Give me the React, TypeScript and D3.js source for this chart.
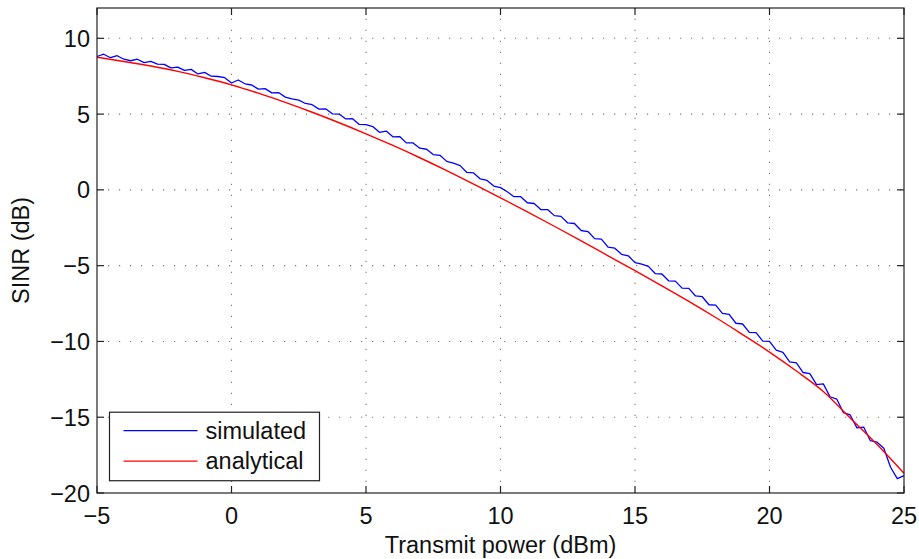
import React, { useRef, useEffect } from 'react';
import * as d3 from 'd3';

// transmit power grid (dBm)
const powerAnalytical: number[] = [
  -5, -4, -3, -2, -1, 0, 1, 2, 3, 4, 5, 6, 7, 8, 9, 10,
  11, 12, 13, 14, 15, 16, 17, 18, 19, 20, 21, 22, 23, 24, 25,
];
const sinrAnalytical: number[] = [
  8.75, 8.47, 8.17, 7.82, 7.4, 6.93, 6.38, 5.77, 5.12, 4.43, 3.7, 2.93, 2.12, 1.27, 0.38, -0.52,
  -1.45, -2.4, -3.37, -4.35, -5.33, -6.33, -7.35, -8.42, -9.55, -10.7, -11.95, -13.3, -15.05, -16.8, -18.7,
];

// simulated curve, sampled every 0.25 dBm from -5 to 25
const powerStart = -5;
const powerStep = 0.25;
const sinrSimulated: number[] = [
  8.8, 8.95, 8.72, 8.85, 8.62, 8.52, 8.62, 8.4, 8.48, 8.3, 8.28, 8.05, 8.1, 7.88, 7.95, 7.65,
  7.75, 7.5, 7.48, 7.4, 7.05, 7.25, 7.0, 6.92, 6.65, 6.68, 6.4, 6.42, 6.12, 6.0, 5.92, 5.7,
  5.62, 5.33, 5.35, 5.02, 5.0, 4.68, 4.7, 4.32, 4.3, 4.18, 3.8, 3.88, 3.5, 3.52, 3.1, 3.1,
  2.75, 2.68, 2.33, 2.28, 1.88, 1.76, 1.6, 1.15, 1.12, 0.72, 0.62, 0.25, 0.15, -0.12, -0.45, -0.45,
  -0.85, -0.9, -1.3, -1.3, -1.7, -1.75, -2.18, -2.22, -2.68, -2.75, -3.22, -3.25, -3.78, -3.85, -4.25, -4.35,
  -4.8, -4.9, -5.05, -5.52, -5.55, -6.0, -6.02, -6.48, -6.5, -7.0, -7.05, -7.58, -7.6, -8.15, -8.22, -8.8,
  -8.85, -9.4, -9.42, -9.98, -10.0, -10.58, -10.72, -11.35, -11.42, -12.05, -12.12, -12.85, -12.8, -13.65, -13.8, -14.7,
  -14.85, -15.7, -15.65, -16.55, -16.65, -17.05, -18.3, -19.05, -18.85,
];

const xTicks: number[] = [-5, 0, 5, 10, 15, 20, 25];
const yTicks: number[] = [-20, -15, -10, -5, 0, 5, 10];
const legendLabels: string[] = ['simulated', 'analytical'];
const seriesColors: string[] = ['#0000ff', '#ff0000'];

const W = 919;
const H = 559;
const margin = { left: 97, right: 15, top: 8, bottom: 66 };

const SinrChart = () => {
  const svgRef = useRef<SVGSVGElement>(null);

  useEffect(() => {
    const svg = d3.select(svgRef.current);
    svg.selectAll('*').remove();

    const x = d3.scaleLinear().domain([-5, 25]).range([margin.left, W - margin.right]);
    const y = d3.scaleLinear().domain([-20, 12]).range([H - margin.bottom, margin.top]);
    const [x0, x1] = x.range();
    const [y0, y1] = y.range(); // y0 = bottom, y1 = top
    const font = 'Liberation Sans, Arial, Helvetica, sans-serif';
    const fs = 23.5;
    const fmt = d3.format('d');

    // dotted grid
    const grid = svg.append('g').attr('stroke', '#777').attr('stroke-width', 1.1)
      .attr('stroke-dasharray', '1.2 9.8');
    grid.selectAll('line.gx').data(xTicks.slice(1, -1)).join('line')
      .attr('x1', d => x(d)).attr('x2', d => x(d)).attr('y1', y0).attr('y2', y1);
    grid.selectAll('line.gy').data(yTicks.slice(1)).join('line')
      .attr('x1', x0).attr('x2', x1).attr('y1', d => y(d)).attr('y2', d => y(d));

    // curves
    const simData: [number, number][] = sinrSimulated.map((v, i) => [powerStart + i * powerStep, v]);
    const anaData: [number, number][] = sinrAnalytical.map((v, i) => [powerAnalytical[i], v]);

    svg.append('path')
      .attr('d', d3.line().x(d => x(d[0])).y(d => y(d[1]))(simData))
      .attr('fill', 'none').attr('stroke', seriesColors[0]).attr('stroke-width', 1.3)
      .attr('stroke-linejoin', 'round');

    svg.append('path')
      .attr('d', d3.line().x(d => x(d[0])).y(d => y(d[1])).curve(d3.curveMonotoneX)(anaData))
      .attr('fill', 'none').attr('stroke', seriesColors[1]).attr('stroke-width', 1.4);

    // frame
    svg.append('rect')
      .attr('x', x0).attr('y', y1).attr('width', x1 - x0).attr('height', y0 - y1)
      .attr('fill', 'none').attr('stroke', '#222').attr('stroke-width', 1.2);

    // inward ticks on all four sides
    const tk = svg.append('g').attr('stroke', '#222').attr('stroke-width', 1.2);
    xTicks.forEach(t => {
      tk.append('line').attr('x1', x(t)).attr('x2', x(t)).attr('y1', y0).attr('y2', y0 - 7);
      tk.append('line').attr('x1', x(t)).attr('x2', x(t)).attr('y1', y1).attr('y2', y1 + 7);
    });
    yTicks.forEach(t => {
      tk.append('line').attr('x1', x0).attr('x2', x0 + 7).attr('y1', y(t)).attr('y2', y(t));
      tk.append('line').attr('x1', x1).attr('x2', x1 - 7).attr('y1', y(t)).attr('y2', y(t));
    });

    // tick labels
    svg.append('g').selectAll('text').data(xTicks).join('text')
      .attr('x', d => x(d)).attr('y', y0 + 30.5)
      .attr('text-anchor', 'middle')
      .attr('font-family', font).attr('font-size', fs).attr('fill', '#111')
      .text(d => fmt(d));

    svg.append('g').selectAll('text').data(yTicks).join('text')
      .attr('x', x0 - 7).attr('y', d => y(d) + 8.5)
      .attr('text-anchor', 'end')
      .attr('font-family', font).attr('font-size', fs).attr('fill', '#111')
      .text(d => fmt(d));

    // axis titles
    svg.append('text')
      .attr('x', (x0 + x1) / 2).attr('y', y0 + 60)
      .attr('text-anchor', 'middle')
      .attr('font-family', font).attr('font-size', fs).attr('fill', '#111')
      .text('Transmit power (dBm)');

    svg.append('text')
      .attr('transform', `translate(29, ${(y0 + y1) / 2}) rotate(-90)`)
      .attr('text-anchor', 'middle')
      .attr('font-family', font).attr('font-size', fs).attr('fill', '#111')
      .text('SINR (dB)');

    // legend
    const lg = svg.append('g').attr('transform', `translate(${x0 + 12.5}, ${y(-15) - 5})`);
    lg.append('rect').attr('width', 210).attr('height', 68.5)
      .attr('fill', '#fff').attr('stroke', '#222').attr('stroke-width', 1.2);
    legendLabels.forEach((label, i) => {
      const cy = 18.5 + i * 30.5;
      lg.append('line').attr('x1', 14).attr('x2', 88).attr('y1', cy).attr('y2', cy)
        .attr('stroke', seriesColors[i]).attr('stroke-width', 1.3);
      lg.append('text').attr('x', 96).attr('y', cy + 8)
        .attr('font-family', font).attr('font-size', fs).attr('fill', '#111')
        .text(label);
    });
  }, []);

  return <svg ref={svgRef} width={W} height={H} style={{ display: 'block' }} />;
};

export default function App() {
  return (
    <div style={{ position: 'absolute', left: 0, top: 0 }}>
      <SinrChart />
    </div>
  );
}
